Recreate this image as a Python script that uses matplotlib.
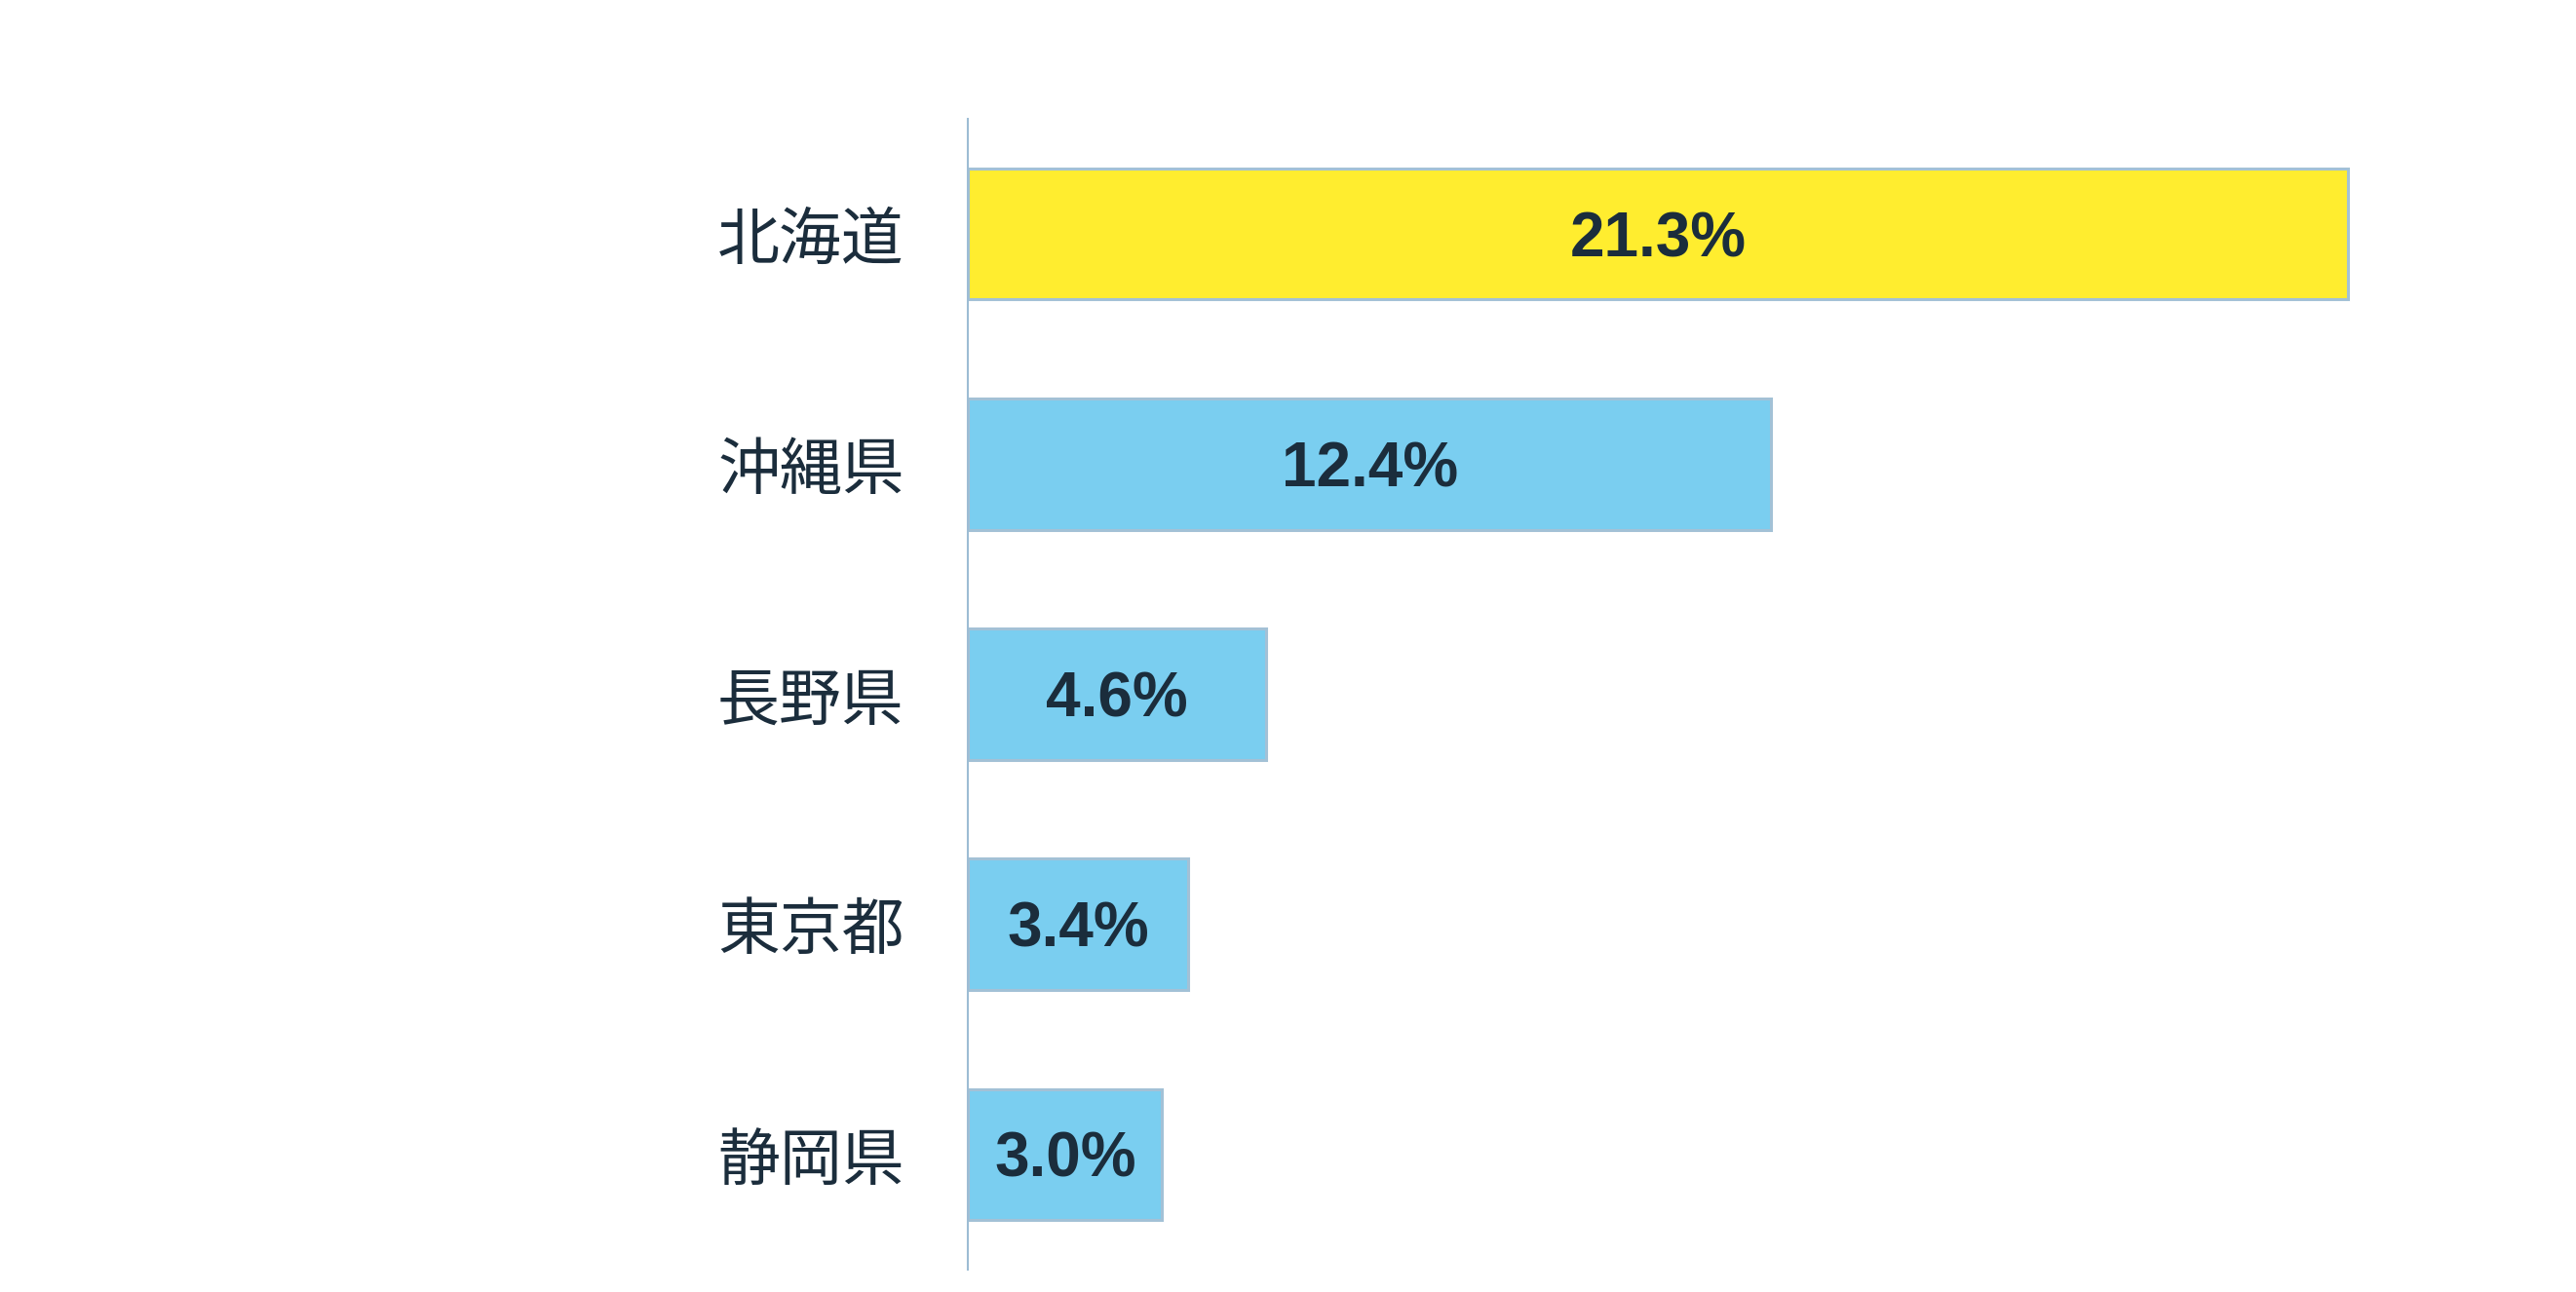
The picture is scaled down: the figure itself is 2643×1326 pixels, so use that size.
import matplotlib
matplotlib.use("Agg")
import matplotlib.pyplot as plt

categories = ["北海道", "沖縄県", "長野県", "東京都", "静岡県"]
values = [21.3, 12.4, 4.6, 3.4, 3.0]
labels = ["21.3%", "12.4%", "4.6%", "3.4%", "3.0%"]
bar_colors = ["#FFED2F", "#7ACEF0", "#7ACEF0", "#7ACEF0", "#7ACEF0"]

plt.rcParams['font.family'] = ['Noto Sans CJK JP', 'DejaVu Sans']

fig = plt.figure(figsize=(26.43, 13.26), dpi=100)
ax = fig.add_axes([993/2643, 23/1326, 1496/2643, 1181/1326])

y = list(range(len(categories)))
ax.barh(y, values, height=0.57, color=bar_colors, edgecolor="#A3C1D6", linewidth=2.2, zorder=2)

for yi, v, lab in zip(y, values, labels):
    ax.text(v / 2, yi + 0.097, lab, ha="center", va="baseline", fontsize=46,
            fontweight="bold", family="Liberation Sans", color="#1B2D3C", zorder=3)

ax.set_ylim(len(categories) - 0.5, -0.5)
ax.set_xlim(0, 22.5)
ax.set_yticks(y)
ax.set_yticklabels(categories, fontsize=46, color="#1B2D3C", fontweight="normal")
ax.tick_params(axis="y", length=0, pad=47)
ax.set_xticks([])
for s in ["top", "right", "bottom"]:
    ax.spines[s].set_visible(False)
ax.spines["left"].set_color("#9DBCD4")
ax.spines["left"].set_linewidth(1.5)

fig.savefig("out.png", dpi=100, facecolor="white")
